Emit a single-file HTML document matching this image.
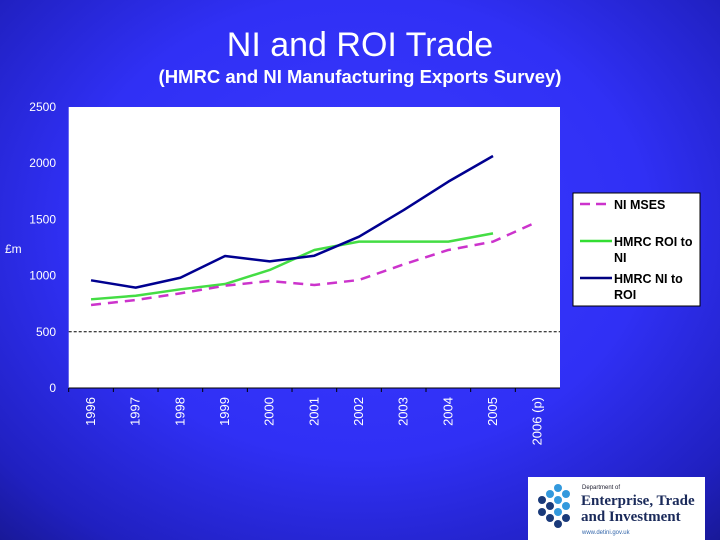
<!DOCTYPE html>
<html><head><meta charset="utf-8"><style>
body{margin:0;width:720px;height:540px;overflow:hidden;font-family:"Liberation Sans",sans-serif;}
#bg{position:absolute;left:0;top:0;width:720px;height:540px;background:radial-gradient(ellipse 80% 85% at 50% 42%,#3a3aff 0%,#3030f5 50%,#2020c0 80%,#141480 100%);}
</style></head><body>
<div id="bg"></div>
<svg width="720" height="540" style="position:absolute;left:0;top:0" id="chart">
<text x="360" y="56" fill="#fff" font-size="34" text-anchor="middle">NI and ROI Trade</text>
<text x="360" y="83" fill="#fff" font-size="18.5" font-weight="bold" text-anchor="middle">(HMRC and NI Manufacturing Exports Survey)</text>
<rect x="68.7" y="107" width="491.3" height="281" fill="#fff"/>
<text x="5" y="253" fill="#fff" font-size="12">£m</text>
<g id="axes"></g><g id="series"></g>
<g>
<rect x="573" y="193" width="127" height="113" fill="#fff" stroke="#000" stroke-width="1"/>
<line x1="580" y1="204" x2="612" y2="204" stroke="#cc33cc" stroke-width="2.5" stroke-dasharray="10,6"/>
<text x="614" y="209" font-size="12.5" font-weight="bold">NI MSES</text>
<line x1="580" y1="241" x2="612" y2="241" stroke="#33dd33" stroke-width="2.5"/>
<text x="614" y="246" font-size="12.5" font-weight="bold">HMRC ROI to</text>
<text x="614" y="262" font-size="12.5" font-weight="bold">NI</text>
<line x1="580" y1="278" x2="612" y2="278" stroke="#000080" stroke-width="2.5"/>
<text x="614" y="283" font-size="12.5" font-weight="bold">HMRC NI to</text>
<text x="614" y="299" font-size="12.5" font-weight="bold">ROI</text>
</g>
<g>
<rect x="528" y="477" width="177" height="63" fill="#fff"/>
<g fill="#1a3a7a"><circle cx="542" cy="500" r="4"/><circle cx="542" cy="512" r="4"/><circle cx="550" cy="506" r="4"/><circle cx="550" cy="518" r="4"/><circle cx="558" cy="524" r="4"/><circle cx="566" cy="518" r="4"/></g>
<g fill="#3399dd"><circle cx="550" cy="494" r="4"/><circle cx="558" cy="488" r="4"/><circle cx="558" cy="500" r="4"/><circle cx="566" cy="494" r="4"/><circle cx="566" cy="506" r="4"/><circle cx="558" cy="512" r="4"/></g>
<text x="582" y="489" font-size="6" fill="#223">Department of</text>
<text x="581" y="505" font-size="15" font-family="Liberation Serif" fill="#1a2a5a" font-weight="bold">Enterprise, Trade</text>
<text x="581" y="521" font-size="15" font-family="Liberation Serif" fill="#1a2a5a" font-weight="bold">and Investment</text>
<text x="582" y="534" font-size="6" fill="#3366aa">www.detini.gov.uk</text>
</g>
</svg>
<script>
const categories=["1996","1997","1998","1999","2000","2001","2002","2003","2004","2005","2006 (p)"];
const yTicks=[0,500,1000,1500,2000,2500];
const niMses=[738,783,842,910,952,916,961,1100,1228,1302,1480];
const roiToNi=[789,821,878,925,1050,1228,1302,1302,1302,1376,null];
const niToRoi=[958,893,981,1174,1127,1177,1346,1583,1836,2064,null];
const L=68.7,R=560,T=107,B=388,NS="http://www.w3.org/2000/svg";
const step=(R-L)/categories.length;
const x=i=>L+step*(i+0.5);
const y=v=>B-(v/2500)*(B-T);
function mk(tag,attrs,parent){const e=document.createElementNS(NS,tag);for(const k in attrs)e.setAttribute(k,attrs[k]);parent.appendChild(e);return e;}
const ax=document.getElementById('axes');
mk('line',{x1:L,y1:B,x2:R,y2:B,stroke:'#000','stroke-width':1},ax);
yTicks.forEach(t=>{
  const tx=mk('text',{x:56,y:y(t)+4,fill:'#fff','font-size':12,'text-anchor':'end'},ax);
  
  
  tx.textContent=t;
  if(t===500){const g=mk('line',{x1:L,y1:y(t),x2:R,y2:y(t),stroke:'#000','stroke-width':1,'stroke-dasharray':'3,2'},ax);
  
  }
});
categories.forEach((c,i)=>{
  mk('line',{x1:L+step*i,y1:B,x2:L+step*i,y2:B+4,stroke:'#000'},ax);
  const tx=mk('text',{x:0,y:0,fill:'#fff','font-size':13,'text-anchor':'end',transform:`translate(${x(i)+4},${B+9}) rotate(-90)`},ax);
  
  
  tx.textContent=c;
});
const sg=document.getElementById('series');
function line(data,color,dash,name){
  const pts=data.map((v,i)=>v==null?null:x(i)+','+y(v)).filter(p=>p);
  const p=mk('polyline',{points:pts.join(' '),fill:'none',stroke:color,'stroke-width':2.5,'stroke-linejoin':'round'},sg);
  if(dash)p.setAttribute('stroke-dasharray',dash);
  
  
}
line(roiToNi,'#44dd44',null,'series-hmrc-roi-to-ni');
line(niMses,'#cc33cc','10,7','series-ni-mses');
line(niToRoi,'#000090',null,'series-hmrc-ni-to-roi');
</script>
</body></html>
